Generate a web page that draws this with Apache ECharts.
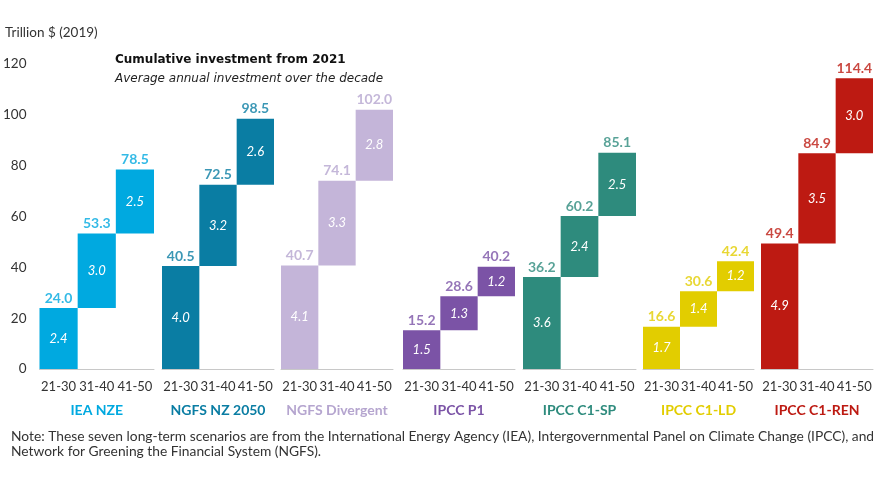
<!DOCTYPE html>
<html>
<head>
<meta charset="utf-8">
<script src="https://cdn.jsdelivr.net/npm/echarts@6/dist/echarts.min.js"></script>
<style>
  html, body { margin: 0; padding: 0; background: #fff; }
  #chart { width: 896px; height: 504px; }
</style>
</head>
<body>
<div id="chart"></div>
<script>
// categories
const periods = ['21-30', '31-40', '41-50'];
const scenarios = ['IEA NZE', 'NGFS NZ 2050', 'NGFS Divergent', 'IPCC P1', 'IPCC C1-SP', 'IPCC C1-LD', 'IPCC C1-REN'];
// cumulative investment from 2021, trillion $ (2019), at end of each decade
const cumIEA = [24.0, 53.3, 78.5];
const cumNgfsNz = [40.5, 72.5, 98.5];
const cumNgfsDiv = [40.7, 74.1, 102.0];
const cumP1 = [15.2, 28.6, 40.2];
const cumC1SP = [36.2, 60.2, 85.1];
const cumC1LD = [16.6, 30.6, 42.4];
const cumC1REN = [49.4, 84.9, 114.4];
// average annual investment over the decade
const avgIEA = [2.4, 3.0, 2.5];
const avgNgfsNz = [4.0, 3.2, 2.6];
const avgNgfsDiv = [4.1, 3.3, 2.8];
const avgP1 = [1.5, 1.3, 1.2];
const avgC1SP = [3.6, 2.4, 2.5];
const avgC1LD = [1.7, 1.4, 1.2];
const avgC1REN = [4.9, 3.5, 3.0];
const yTicks = [0, 20, 40, 60, 80, 100, 120];

const cumulative = [cumIEA, cumNgfsNz, cumNgfsDiv, cumP1, cumC1SP, cumC1LD, cumC1REN];
const annual = [avgIEA, avgNgfsNz, avgNgfsDiv, avgP1, avgC1SP, avgC1LD, avgC1REN];

const colors = ['#00a9e0', '#0a7da3', '#c4b5d9', '#7b53a6', '#2e8b7d', '#e2cd00', '#bd1a12'];
const labelColors = ['#00a9e0', '#0a7da3', '#b5a5cf', '#7b53a6', '#2e8b7d', '#e2cd00', '#bd1a12'];
const groupLeft = [37, 162, 281, 403, 523, 643, 761];
const groupRight = [154, 274, 393, 515, 636, 754, 873];

const font = 'Lato, "Noto Sans", sans-serif';
const wide = '"DejaVu Sans", sans-serif';

const chart = echarts.init(document.getElementById('chart'));

let grids = [], xAxes = [], yAxes = [], series = [];
scenarios.forEach(function (name, i) {
  grids.push({ left: groupLeft[i], width: groupRight[i] - groupLeft[i], top: 64, height: 305 });
  xAxes.push({
    type: 'category',
    gridIndex: i,
    data: periods,
    name: name,
    nameLocation: 'middle',
    nameGap: 34,
    nameTextStyle: { color: labelColors[i], fontWeight: 'bold', fontSize: 14, fontFamily: font },
    axisLine: { lineStyle: { color: '#c8c8c8' } },
    axisTick: { length: 5, lineStyle: { color: '#c8c8c8' } },
    axisLabel: { color: '#333', fontSize: 13, fontFamily: font, margin: 11, interval: 0, hideOverlap: false }
  });
  yAxes.push({
    type: 'value',
    gridIndex: i,
    min: 0, max: 120, interval: 20,
    show: i === 0,
    splitLine: { show: false },
    axisLine: { show: false },
    axisTick: { show: false },
    axisLabel: {
      color: '#333', fontSize: 13.5, fontFamily: font, margin: 13,
      formatter: function (v) { return yTicks.indexOf(v) >= 0 ? v : ''; }
    }
  });
  const cum = cumulative[i];
  const base = cum.map(function (v, k) { return k === 0 ? 0 : cum[k - 1]; });
  const inc = cum.map(function (v, k) { return +(v - base[k]).toFixed(1); });
  series.push({
    type: 'bar', stack: 's' + i, xAxisIndex: i, yAxisIndex: i,
    barCategoryGap: 0, silent: true,
    itemStyle: { color: 'transparent' },
    data: base
  });
  series.push({
    type: 'bar', stack: 's' + i, xAxisIndex: i, yAxisIndex: i,
    barCategoryGap: 0,
    itemStyle: { color: colors[i] },
    label: {
      show: true, position: 'inside',
      color: '#fff', fontStyle: 'italic', fontSize: 13, fontFamily: font,
      formatter: function (p) { return annual[i][p.dataIndex].toFixed(1); }
    },
    data: inc
  });
  series.push({
    type: 'scatter', xAxisIndex: i, yAxisIndex: i,
    symbolSize: 0,
    label: {
      show: true, position: 'top', distance: 3,
      color: labelColors[i], fontWeight: 'bold', fontSize: 14, fontFamily: font,
      formatter: function (p) { return p.value.toFixed(1); }
    },
    data: cum
  });
});

chart.setOption({
  animation: false,
  title: [
    { text: 'Trillion $ (2019)', left: 0, top: 21,
      textStyle: { fontSize: 13.5, fontWeight: 'normal', color: '#333', fontFamily: font } },
    { text: 'Cumulative investment from 2021', subtext: 'Average annual investment over the decade',
      left: 110, top: 49, itemGap: 7,
      textStyle: { fontSize: 12, fontWeight: 'bold', color: '#111', fontFamily: wide },
      subtextStyle: { fontSize: 12, fontStyle: 'italic', color: '#222', fontFamily: wide } },
    { text: 'Note: These seven long-term scenarios are from the International Energy Agency (IEA), Intergovernmental Panel on Climate Change (IPCC), and\nNetwork for Greening the Financial System (NGFS).',
      left: 6, top: 424,
      textStyle: { fontSize: 13.8, fontWeight: 'normal', color: '#333', lineHeight: 15, fontFamily: font } }
  ],
  grid: grids,
  xAxis: xAxes,
  yAxis: yAxes,
  series: series
});
</script>
</body>
</html>
